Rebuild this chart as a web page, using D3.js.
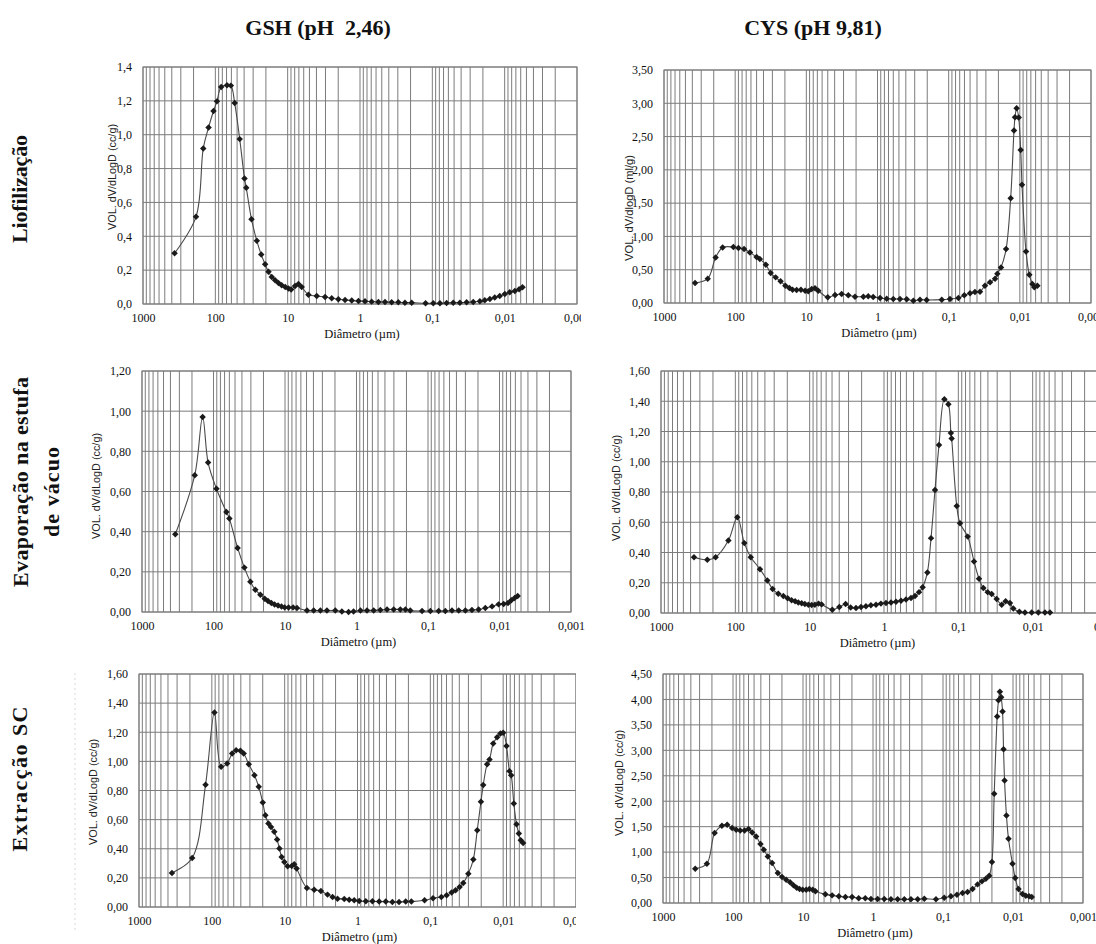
<!DOCTYPE html>
<html>
<head>
<meta charset="utf-8">
<script src="https://cdn.jsdelivr.net/npm/d3@7"></script>
<style>
  body { margin: 0; background: #fff; }
  svg { display: block; }
</style>
</head>
<body>
<svg id="chart" width="1096" height="944"></svg>
<script>
// ---- categories / labels ----
const columnTitles = ["GSH (pH  2,46)", "CYS (pH 9,81)"];
const rowTitles = [["Liofilização"], ["Evaporação na estufa", "de vácuo"], ["Extracção SC"]];
const xTickValues = [1000, 100, 10, 1, 0.1, 0.01, 0.001];
const xTickLabels = ["1000", "100", "10", "1", "0,1", "0,01", "0,001"];
const xAxisTitle = "Diâmetro (µm)";
const yTitleCc = "VOL. dV/dLogD (cc/g)";
const yTitleMl = "VOL. dV/dlogD (ml/g)";

// ---- series: diameter (µm) and dV/dlogD ----
const gshLiofDiam = [366,185,147,124,106,95,83,69,61,54,46,39.5,37.4,31.6,26.7,23.2,20.5,18.4,16.6,14.9,13.4,12.1,10.8,9.75,8.95,7.9,7.1,6.4,5.16,3.96,3.04,2.46,1.99,1.61,1.30,1.05,0.853,0.690,0.557,0.451,0.365,0.295,0.239,0.193,0.124,0.097,0.0785,0.0635,0.0514,0.0416,0.0336,0.0272,0.0220,0.0188,0.0160,0.0137,0.0117,0.00995,0.0085,0.00724,0.00631,0.00567];
const gshLiofVol = [0.300,0.515,0.918,1.043,1.140,1.197,1.282,1.292,1.290,1.187,0.974,0.742,0.687,0.500,0.373,0.292,0.235,0.190,0.160,0.140,0.124,0.111,0.101,0.091,0.085,0.107,0.118,0.100,0.055,0.047,0.041,0.034,0.028,0.024,0.020,0.018,0.016,0.014,0.012,0.012,0.010,0.010,0.008,0.008,0.004,0.004,0.004,0.006,0.008,0.008,0.010,0.012,0.016,0.022,0.030,0.038,0.047,0.059,0.069,0.077,0.087,0.099];

const cysLiofDiam = [366,243,188,150,106,90,75,62,50,45,37,31.7,27,23,19.7,17.3,15.6,13.7,11.9,10.4,9.4,8.4,7.55,6.8,5.0,3.95,3.19,2.57,2.07,1.58,1.35,1.15,0.92,0.743,0.60,0.483,0.389,0.313,0.253,0.204,0.125,0.0957,0.0731,0.0603,0.050,0.0427,0.0363,0.0309,0.0262,0.0223,0.0207,0.0184,0.0156,0.01345,0.01208,0.0117,0.0111,0.01038,0.00973,0.00932,0.00819,0.00736,0.00667,0.00625,0.00567];
const cysLiofVol = [0.30,0.365,0.685,0.835,0.84,0.825,0.81,0.76,0.69,0.66,0.575,0.45,0.385,0.325,0.26,0.225,0.20,0.195,0.20,0.185,0.175,0.21,0.22,0.185,0.085,0.12,0.135,0.115,0.095,0.095,0.10,0.09,0.075,0.065,0.06,0.06,0.055,0.035,0.05,0.045,0.05,0.06,0.075,0.115,0.145,0.165,0.17,0.26,0.31,0.365,0.44,0.535,0.81,1.575,2.59,2.79,2.925,2.785,2.30,1.775,0.775,0.425,0.285,0.235,0.26];

const gshEvapDiam = [342,183,142,119,91,66,60,46,37,30.5,26,22.1,19.2,17.3,15.5,14.0,12.5,11.2,10.1,8.9,7.7,6.8,4.92,3.97,3.2,2.59,1.98,1.6,1.29,1.10,0.88,0.713,0.575,0.464,0.374,0.302,0.244,0.207,0.177,0.121,0.0927,0.071,0.0573,0.0462,0.0372,0.030,0.0243,0.0196,0.0158,0.0127,0.0103,0.00875,0.0076,0.00683,0.00614,0.00557];
const gshEvapVol = [0.387,0.681,0.971,0.744,0.614,0.498,0.465,0.319,0.221,0.151,0.111,0.086,0.066,0.055,0.045,0.037,0.032,0.027,0.023,0.022,0.023,0.020,0.007,0.008,0.007,0.007,0.008,0.003,0.0,0.003,0.007,0.008,0.008,0.010,0.012,0.013,0.013,0.012,0.007,0.005,0.005,0.005,0.005,0.007,0.007,0.008,0.010,0.012,0.020,0.028,0.038,0.040,0.045,0.058,0.070,0.080];

const cysEvapDiam = [360,238,184,124,94,75.7,62,46.6,37.1,31.5,26.4,22.6,19.8,17.5,15.7,14.2,12.8,11.6,10.4,9.4,8.5,7.6,6.9,4.96,3.99,3.28,2.81,2.38,2.04,1.75,1.50,1.28,1.10,0.94,0.805,0.690,0.59,0.506,0.433,0.383,0.338,0.302,0.261,0.233,0.206,0.182,0.154,0.136,0.126,0.123,0.105,0.095,0.0748,0.0615,0.0527,0.0461,0.0403,0.0356,0.0305,0.0261,0.0231,0.0202,0.0182,0.0151,0.0127,0.0103,0.0084,0.00683,0.00585];
const cysEvapVol = [0.369,0.352,0.369,0.479,0.633,0.462,0.369,0.29,0.215,0.158,0.127,0.112,0.097,0.084,0.077,0.070,0.064,0.059,0.055,0.053,0.055,0.062,0.057,0.022,0.040,0.059,0.037,0.033,0.040,0.044,0.051,0.055,0.062,0.066,0.070,0.075,0.081,0.090,0.099,0.112,0.138,0.171,0.268,0.495,0.813,1.11,1.413,1.38,1.19,1.154,0.708,0.593,0.505,0.341,0.226,0.165,0.138,0.125,0.092,0.055,0.077,0.066,0.029,0.009,0.004,0.004,0.004,0.004,0.004];

const gshScDiam = [353,186,122,92,74.5,61.6,52.6,46.4,40.5,36.5,31.1,26.0,22.7,20.0,18.4,16.7,15.4,13.9,12.7,11.8,11.0,10.1,9.1,8.0,7.4,6.85,4.95,3.93,3.18,2.58,2.2,1.88,1.52,1.30,1.11,0.948,0.769,0.623,0.505,0.409,0.332,0.269,0.218,0.182,0.120,0.0919,0.0706,0.0597,0.051,0.045,0.0396,0.0353,0.0301,0.0257,0.0227,0.0202,0.0188,0.0166,0.0154,0.0137,0.0121,0.0109,0.0100,0.0090,0.00818,0.00776,0.00714,0.00656,0.0061,0.00573,0.00532];
const gshScVol = [0.234,0.337,0.839,1.336,0.963,0.986,1.054,1.077,1.073,1.054,0.981,0.905,0.825,0.717,0.630,0.573,0.550,0.516,0.463,0.401,0.344,0.309,0.280,0.282,0.293,0.264,0.131,0.119,0.110,0.085,0.069,0.057,0.055,0.050,0.046,0.041,0.039,0.039,0.037,0.037,0.034,0.034,0.037,0.037,0.046,0.060,0.069,0.080,0.099,0.115,0.138,0.165,0.229,0.326,0.527,0.722,0.837,0.981,1.013,1.123,1.165,1.192,1.197,1.105,0.933,0.905,0.711,0.569,0.504,0.458,0.440];

const cysScDiam = [346,236,183,144,121,103,90,79,68.4,60,53.2,46.7,40.5,36.3,31.8,27.6,22.9,19.9,17.4,15.3,13.7,12.3,11.2,10.1,9.0,8.1,7.25,6.64,4.79,3.84,3.08,2.48,1.99,1.60,1.29,1.07,0.859,0.69,0.554,0.445,0.357,0.287,0.230,0.185,0.126,0.096,0.077,0.0632,0.0525,0.0446,0.0378,0.0321,0.0278,0.0244,0.0219,0.020,0.01855,0.01682,0.0161,0.0154,0.01475,0.0141,0.01365,0.0132,0.0124,0.0116,0.01017,0.0093,0.00835,0.00732,0.00656,0.00589,0.0054];
const cysScVol = [0.674,0.772,1.374,1.517,1.537,1.472,1.439,1.426,1.426,1.452,1.387,1.308,1.158,1.047,0.916,0.785,0.589,0.510,0.458,0.406,0.347,0.301,0.275,0.262,0.262,0.275,0.262,0.229,0.170,0.150,0.131,0.118,0.118,0.092,0.092,0.078,0.078,0.078,0.072,0.072,0.072,0.072,0.072,0.085,0.072,0.105,0.131,0.164,0.196,0.216,0.275,0.366,0.425,0.477,0.536,0.805,2.145,3.663,3.983,4.153,4.042,3.761,3.022,2.407,1.720,1.262,0.772,0.491,0.275,0.177,0.144,0.131,0.118];

// ---- y-axis tick sets ----
const yTicksLiofGsh = [0, 0.2, 0.4, 0.6, 0.8, 1.0, 1.2, 1.4];
const yTicksLiofCys = [0, 0.5, 1.0, 1.5, 2.0, 2.5, 3.0, 3.5];
const yTicksEvapGsh = [0, 0.2, 0.4, 0.6, 0.8, 1.0, 1.2];
const yTicksEvapCys = [0, 0.2, 0.4, 0.6, 0.8, 1.0, 1.2, 1.4, 1.6];
const yTicksScGsh = [0, 0.2, 0.4, 0.6, 0.8, 1.0, 1.2, 1.4, 1.6];
const yTicksScCys = [0, 0.5, 1.0, 1.5, 2.0, 2.5, 3.0, 3.5, 4.0, 4.5];

// ---- panel layout ----
const panels = [
  { id: 1, diam: gshLiofDiam, vol: gshLiofVol, yTicks: yTicksLiofGsh, dec: 1, yTitle: yTitleCc,
    left: 143, right: 577, top: 67, bottom: 304, clipRight: 581, yTitleX: 116, yTitleY: 177 },
  { id: 2, diam: cysLiofDiam, vol: cysLiofVol, yTicks: yTicksLiofCys, dec: 2, yTitle: yTitleMl,
    left: 664, right: 1091, top: 70, bottom: 303, clipRight: 1096, yTitleX: 633, yTitleY: 208 },
  { id: 3, diam: gshEvapDiam, vol: gshEvapVol, yTicks: yTicksEvapGsh, dec: 2, yTitle: yTitleCc,
    left: 142, right: 571, top: 371, bottom: 612, clipRight: 600, yTitleX: 100, yTitleY: 486 },
  { id: 4, diam: cysEvapDiam, vol: cysEvapVol, yTicks: yTicksEvapCys, dec: 2, yTitle: yTitleCc,
    left: 661, right: 1107, top: 371, bottom: 613, clipRight: 1096, yTitleX: 620, yTitleY: 488 },
  { id: 5, diam: gshScDiam, vol: gshScVol, yTicks: yTicksScGsh, dec: 2, yTitle: yTitleCc,
    left: 139, right: 576, top: 674, bottom: 907, clipRight: 576, yTitleX: 97, yTitleY: 792 },
  { id: 6, diam: cysScDiam, vol: cysScVol, yTicks: yTicksScCys, dec: 2, yTitle: yTitleCc,
    left: 663, right: 1083, top: 674, bottom: 903, clipRight: 1096, yTitleX: 623, yTitleY: 783 }
];

const svg = d3.select("#chart");
const defs = svg.append("defs");
const gridColor = "#7c7c7c";
const serif = '"Liberation Serif", "Times New Roman", serif';
const sans = '"Liberation Sans", Arial, sans-serif';

// log grid: 1..9 x 10^k between 0.001 and 1000
const logGrid = [];
for (let k = -3; k <= 2; k++) for (let m = 1; m <= 9; m++) logGrid.push(m * Math.pow(10, k));
logGrid.push(1000);

function decFormat(dec) {
  const f = d3.format("." + dec + "f");
  return v => f(v).replace(".", ",");
}

panels.forEach(p => {
  const x = d3.scaleLog().domain([1000, 0.001]).range([p.left, p.right]);
  const y = d3.scaleLinear().domain([0, p.yTicks[p.yTicks.length - 1]]).range([p.bottom, p.top]);

  defs.append("clipPath").attr("id", "clip" + p.id)
    .append("rect").attr("x", 0).attr("y", p.top - 30)
    .attr("width", p.clipRight).attr("height", p.bottom - p.top + 90);

  const g = svg.append("g").attr("clip-path", `url(#clip${p.id})`);

  // vertical log grid
  g.append("g").selectAll("line").data(logGrid).join("line")
    .attr("x1", d => x(d)).attr("x2", d => x(d))
    .attr("y1", p.top).attr("y2", p.bottom)
    .attr("stroke", gridColor).attr("stroke-width", 1);

  // horizontal grid
  g.append("g").selectAll("line").data(p.yTicks).join("line")
    .attr("x1", p.left).attr("x2", p.right)
    .attr("y1", d => y(d)).attr("y2", d => y(d))
    .attr("stroke", gridColor).attr("stroke-width", 1);

  // plot frame
  g.append("rect").attr("x", p.left).attr("y", p.top)
    .attr("width", p.right - p.left).attr("height", p.bottom - p.top)
    .attr("fill", "none").attr("stroke", gridColor).attr("stroke-width", 1);

  // x axis
  const xAxis = d3.axisBottom(x).tickValues(xTickValues)
    .tickFormat((d, i) => xTickLabels[i]).tickSize(0).tickPadding(9);
  const gx = g.append("g").attr("transform", `translate(0,${p.bottom})`).call(xAxis);
  gx.select(".domain").remove();
  gx.selectAll("text").style("font-family", serif).style("font-size", "12px").style("fill", "#111");

  // y axis
  const yAxis = d3.axisLeft(y).tickValues(p.yTicks).tickFormat(decFormat(p.dec)).tickSize(0).tickPadding(11);
  const gy = g.append("g").attr("transform", `translate(${p.left},0)`).call(yAxis);
  gy.select(".domain").remove();
  gy.selectAll("text").style("font-family", serif).style("font-size", "12px").style("fill", "#111");

  // axis titles
  g.append("text").attr("x", (p.left + Math.min(p.right, 1090)) / 2 + 2).attr("y", p.bottom + 34)
    .attr("text-anchor", "middle")
    .style("font-family", serif).style("font-size", "12.5px").style("fill", "#111")
    .text(xAxisTitle);
  g.append("text")
    .attr("transform", `translate(${p.yTitleX},${p.yTitleY}) rotate(-90)`)
    .attr("text-anchor", "middle")
    .attr("textLength", 106).attr("lengthAdjust", "spacingAndGlyphs")
    .style("font-family", sans).style("font-size", "10px").style("fill", "#222")
    .text(p.yTitle);

  // series: smoothed line + diamond markers
  const pts = p.diam.map((d, i) => [x(d), y(p.vol[i])]);
  g.append("path").attr("d", d3.line().curve(d3.curveCatmullRom.alpha(0.5))(pts))
    .attr("fill", "none").attr("stroke", "#4a4a4a").attr("stroke-width", 1.1);
  const diamond = d3.symbol(d3.symbolSquare, 21);
  g.append("g").selectAll("path").data(pts).join("path")
    .attr("transform", d => `translate(${d[0]},${d[1]}) rotate(45)`)
    .attr("d", diamond).attr("fill", "#1a1a1a");
});

// column titles
const colX = [318, 813];
columnTitles.forEach((t, i) => {
  svg.append("text").attr("x", colX[i]).attr("y", 35).attr("text-anchor", "middle")
    .style("font-family", serif).style("font-size", "22px").style("font-weight", "bold")
    .style("white-space", "pre").style("fill", "#111")
    .text(t);
});

// row titles (rotated)
const rowLines = [
  [{ x: 27, y: 189, len: 108 }],
  [{ x: 28, y: 482, len: 210 }, { x: 59, y: 492, len: 90 }],
  [{ x: 27, y: 779, len: 145 }]
];
rowTitles.forEach((lines, r) => {
  lines.forEach((t, j) => {
    const pos = rowLines[r][j];
    svg.append("text").attr("transform", `translate(${pos.x},${pos.y}) rotate(-90)`)
      .attr("text-anchor", "middle").attr("textLength", pos.len)
      .style("font-family", serif).style("font-size", "22px").style("font-weight", "bold")
      .style("fill", "#111")
      .text(t);
  });
});

// faint cell border beside the last row
svg.append("line").attr("x1", 75).attr("x2", 75).attr("y1", 673).attr("y2", 930)
  .attr("stroke", "#d8d8d8").attr("stroke-dasharray", "2,3");
</script>
</body>
</html>
